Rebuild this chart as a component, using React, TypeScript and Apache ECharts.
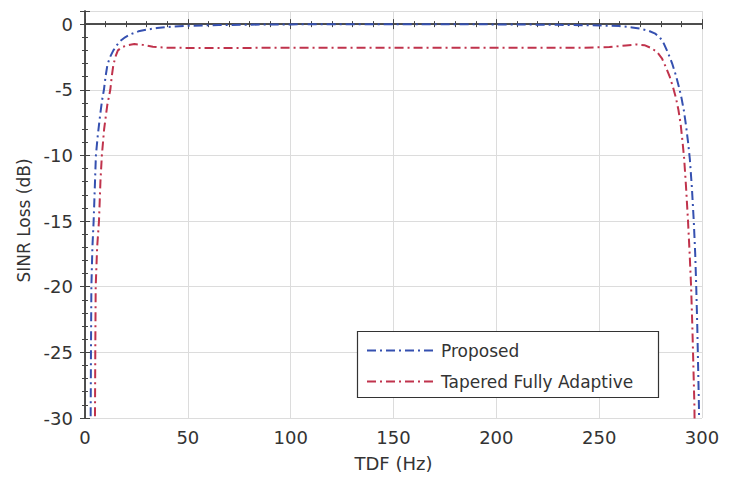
import React, { useEffect, useRef } from "react";
import * as echarts from "echarts";

// Proposed (blue) curve: TDF (Hz) vs SINR loss (dB)
const proposedTdf = [
  2.6, 2.75, 2.9, 3.1, 3.6, 4.2, 4.8, 5.3, 6.2, 7.3, 8.3, 9.2, 10.0, 10.9, 12.2, 13.8,
  15.5, 17, 19.5, 22, 26, 30, 35, 42, 50, 65, 80, 100, 150, 200, 230, 250, 260, 266,
  270, 274, 277, 279.5, 281.5, 283.5, 285.5, 287.3, 288.8, 290, 291.2, 292.3, 293.3,
  294.1, 295.1, 296, 296.7, 297.2, 297.7, 298.1, 298.5, 298.8, 299.0,
];
const proposedLoss = [
  -40, -30, -25, -20, -17, -15, -12.3, -10, -8.5, -7, -5.8, -5, -4, -3.1, -2.5, -2,
  -1.6, -1.3, -1.0, -0.78, -0.55, -0.42, -0.3, -0.2, -0.13, -0.07, -0.04, -0.02, 0,
  -0.02, -0.05, -0.1, -0.15, -0.25, -0.35, -0.5, -0.7, -1.0, -1.5, -2.2, -3.0, -3.9,
  -4.8, -5.6, -6.6, -7.8, -9.1, -10.3, -12.5, -15, -17.5, -20, -23, -26, -29, -33, -40,
];

// Tapered Fully Adaptive (red) curve
const taperedTdf = [
  4.7, 4.85, 5.0, 5.2, 5.9, 6.8, 7.5, 8.2, 9.3, 10.8, 12.3, 13.0, 13.8, 15, 16, 18,
  21, 24, 28, 33, 40, 60, 100, 150, 200, 240, 255, 263, 268, 272, 275, 278, 280.5,
  282.5, 284.3, 285.9, 287.3, 288.5, 289.6, 290.5, 291.3, 292.2, 293.2, 294, 294.7,
  295.3, 295.8, 296.3, 296.6, 296.8,
];
const taperedLoss = [
  -40, -30, -25, -20, -17, -15, -12, -10, -8, -6.2, -5, -4, -3.1, -2.4, -2.0, -1.75,
  -1.6, -1.52, -1.58, -1.72, -1.8, -1.82, -1.8, -1.8, -1.8, -1.8, -1.75, -1.62, -1.55,
  -1.6, -1.8, -2.1, -2.6, -3.3, -4.0, -4.8, -5.6, -6.5, -7.6, -8.9, -10.2, -12.3, -15,
  -17.5, -20, -23, -26, -29, -33, -40,
];

const seriesNames = ["Proposed", "Tapered Fully Adaptive"];
const seriesColors = ["#3550b0", "#c0334c"];

const xTicks = { min: 0, max: 300, interval: 50 };
const yTicks = { min: -30, max: 1, interval: 5 };

const FONT = "DejaVu Sans";
const TXT = "#333333";
const FRAME = "#444444";

function zip(xs: number[], ys: number[]) {
  return xs.map((x, i) => [x, ys[i]]);
}

export default function App() {
  const ref = useRef<HTMLDivElement>(null);
  useEffect(() => {
    if (!ref.current) return;
    const chart = echarts.init(ref.current, undefined, { renderer: "svg" });
    const dash = [9, 4, 2, 4];
    const tickStyle = {
      axisTick: { show: true, inside: true, length: 5, lineStyle: { color: FRAME } },
      minorTick: { show: true, splitNumber: 5, length: 3, lineStyle: { color: FRAME } },
    };
    const mainX = {
      type: "value",
      min: xTicks.min,
      max: xTicks.max,
      interval: xTicks.interval,
      position: "bottom",
      name: "TDF (Hz)",
      nameLocation: "middle",
      nameGap: 36,
      nameTextStyle: { fontFamily: FONT, fontSize: 18, color: TXT },
      axisLine: { show: true, lineStyle: { color: FRAME, width: 1.5 } },
      ...tickStyle,
      axisLabel: { fontFamily: FONT, fontSize: 18, color: TXT, margin: 10 },
      splitLine: { show: true, lineStyle: { color: "#dcdcdc", width: 1 } },
    };
    const mainY = {
      type: "value",
      min: yTicks.min,
      max: yTicks.max,
      interval: yTicks.interval,
      position: "left",
      name: "SINR Loss (dB)",
      nameLocation: "middle",
      nameGap: 44,
      nameTextStyle: { fontFamily: FONT, fontSize: 17, color: TXT, padding: [0, 12, 0, 0] },
      axisLine: { show: true, lineStyle: { color: FRAME, width: 1.5 } },
      ...tickStyle,
      axisLabel: {
        fontFamily: FONT,
        fontSize: 18,
        color: TXT,
        margin: 12,
        formatter: (v: number) => (v > 0 ? "" : String(v)),
      },
      splitLine: { show: true, lineStyle: { color: "#dcdcdc", width: 1 } },
    };
    const mirrorX = {
      type: "value",
      min: xTicks.min,
      max: xTicks.max,
      interval: xTicks.interval,
      position: "top",
      axisLine: { show: true, lineStyle: { color: FRAME, width: 1.5 } },
      ...tickStyle,
      axisLabel: { show: false },
      splitLine: { show: false },
    };
    const mirrorY = {
      type: "value",
      min: yTicks.min,
      max: yTicks.max,
      interval: yTicks.interval,
      position: "right",
      axisLine: { show: true, lineStyle: { color: FRAME, width: 1.5 } },
      ...tickStyle,
      axisLabel: { show: false },
      splitLine: { show: false },
    };
    chart.setOption({
      animation: false,
      backgroundColor: "#ffffff",
      grid: { left: 85, right: 28, top: 11, bottom: 58 },
      xAxis: [mainX, mirrorX],
      yAxis: [mainY, mirrorY],
      legend: {
        orient: "vertical",
        left: 366,
        top: 342,
        padding: 0,
        itemWidth: 67,
        itemHeight: 16,
        itemGap: 14,
        itemStyle: { opacity: 0 },
        textStyle: { fontFamily: FONT, fontSize: 17, color: TXT, padding: [0, 0, 0, 2] },
        data: seriesNames,
        z: 5,
      },
      graphic: [
        {
          type: "rect",
          z: 3,
          shape: { x: 357.5, y: 331.5, width: 301, height: 66 },
          style: { fill: "#ffffff", stroke: "#333333", lineWidth: 1.2 },
        },
      ],
      series: [
        {
          name: seriesNames[0],
          type: "line",
          data: zip(proposedTdf, proposedLoss),
          showSymbol: false,
          symbol: "none",
          lineStyle: { color: seriesColors[0], width: 2, type: dash },
          itemStyle: { color: seriesColors[0] },
          clip: true,
        },
        {
          name: seriesNames[1],
          type: "line",
          data: zip(taperedTdf, taperedLoss),
          showSymbol: false,
          symbol: "none",
          lineStyle: { color: seriesColors[1], width: 2, type: dash },
          itemStyle: { color: seriesColors[1] },
          clip: true,
        },
      ],
    });
    return () => chart.dispose();
  }, []);
  return (
    <div
      ref={ref}
      style={{ position: "fixed", left: 0, top: 0, width: 730, height: 477 }}
    />
  );
}
